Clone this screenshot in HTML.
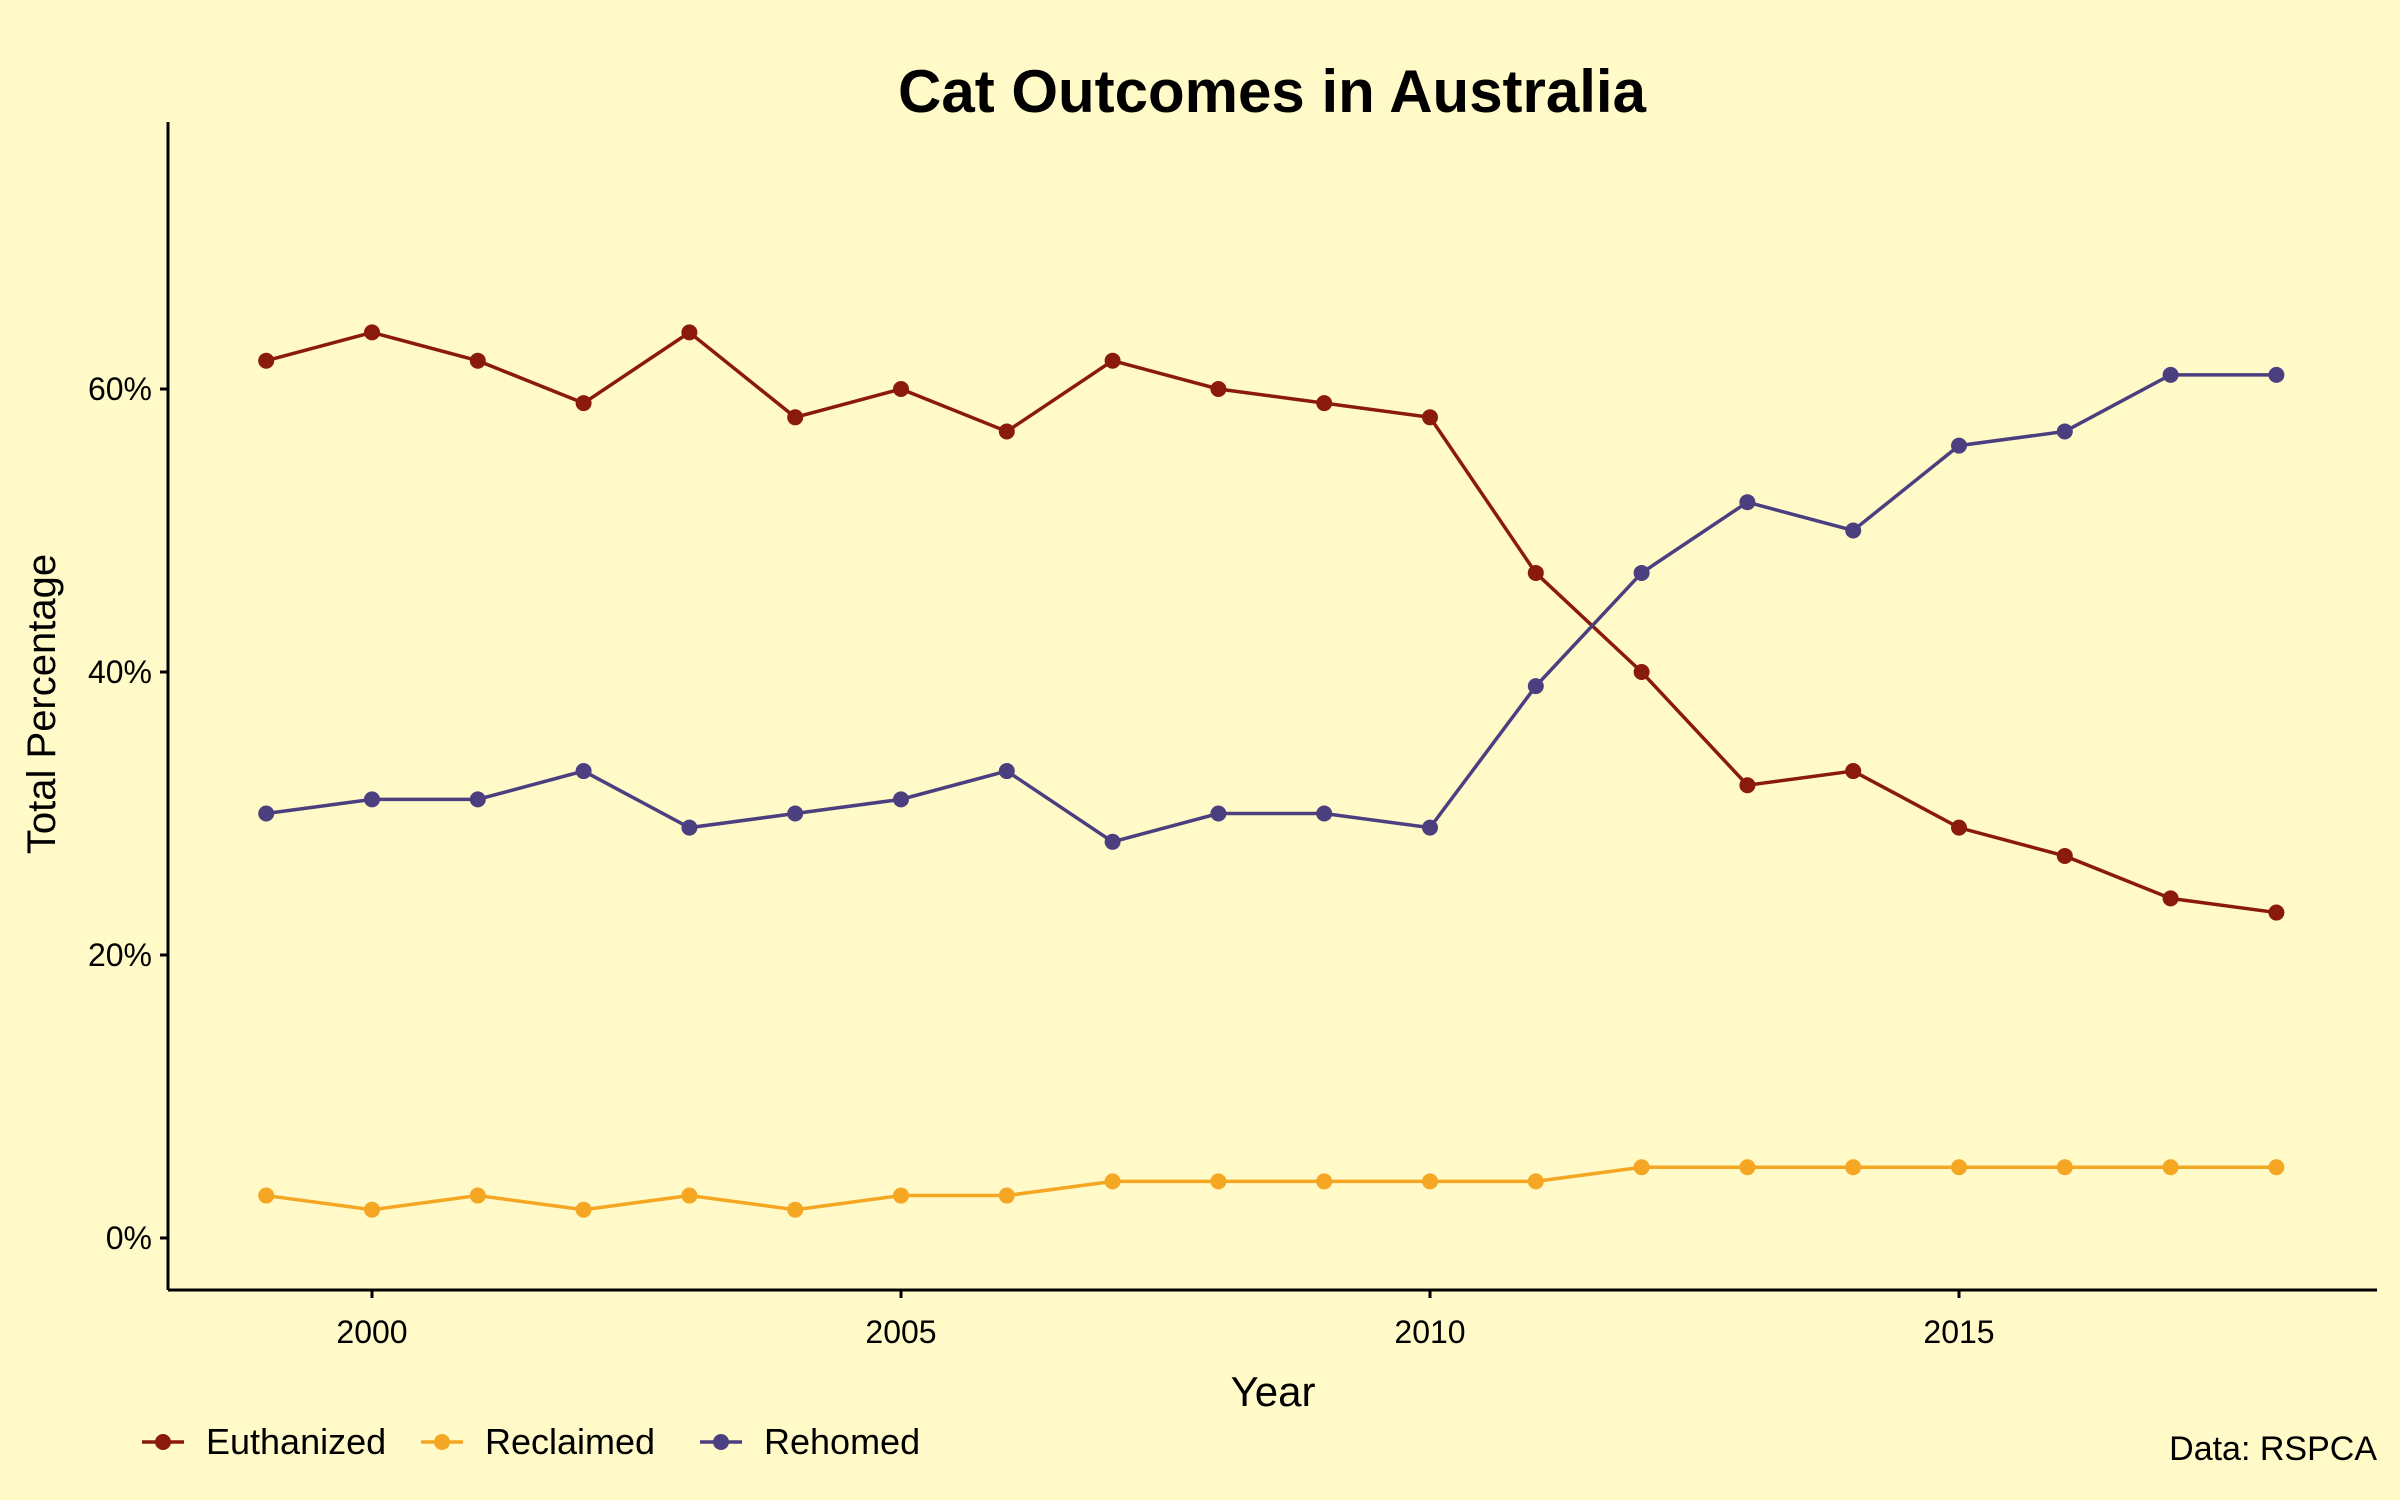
<!DOCTYPE html>
<html><head><meta charset="utf-8"><style>
html,body{margin:0;padding:0;background:#fffac7;}
svg{display:block;font-family:"Liberation Sans",sans-serif;}
</style></head><body>
<svg id="chart" width="2400" height="1500" viewBox="0 0 2400 1500" xmlns="http://www.w3.org/2000/svg">
<rect width="2400" height="1500" fill="#fffac7"/>
<text x="1272" y="112" text-anchor="middle" font-size="60" font-weight="bold" fill="#000">Cat Outcomes in Australia</text>
<g id="axes"></g>
<g id="series"></g>
<text x="1273" y="1406" text-anchor="middle" font-size="42" fill="#000">Year</text>
<text x="0" y="0" transform="translate(55,704) rotate(-90)" text-anchor="middle" font-size="40" fill="#000">Total Percentage</text>
<g id="legend"></g>
<text x="2377" y="1460" text-anchor="end" font-size="34" fill="#000">Data: RSPCA</text>
</svg>
<script>
const years=[1999,2000,2001,2002,2003,2004,2005,2006,2007,2008,2009,2010,2011,2012,2013,2014,2015,2016,2017,2018];
const euthanized=[62,64,62,59,64,58,60,57,62,60,59,58,47,40,32,33,29,27,24,23];
const reclaimed=[3,2,3,2,3,2,3,3,4,4,4,4,4,5,5,5,5,5,5,5];
const rehomed=[30,31,31,33,29,30,31,33,28,30,30,29,39,47,52,50,56,57,61,61];
const seriesNames=["Euthanized","Reclaimed","Rehomed"];
const xTicks=[2000,2005,2010,2015];
const yTicks=[0,20,40,60];

const NS="http://www.w3.org/2000/svg";
const colors=["#8b1a0e","#f5a623","#4b3f80"];
function xS(y){return 372+(y-2000)*(1959-372)/15;}
function yS(v){return 1238-v*(1238-389)/60;}
function mk(tag,attrs,parent){const e=document.createElementNS(NS,tag);for(const k in attrs)e.setAttribute(k,attrs[k]);parent.appendChild(e);return e;}

const axes=document.getElementById('axes');
const yAxis=mk('line',{x1:168,y1:122,x2:168,y2:1290,stroke:'#000','stroke-width':3},axes);


const xAxis=mk('line',{x1:168,y1:1290,x2:2377,y2:1290,stroke:'#000','stroke-width':3},axes);


yTicks.forEach(v=>{
  const t=mk('line',{x1:160,x2:168,y1:yS(v),y2:yS(v),stroke:'#000','stroke-width':3},axes);
  
  
  const l=mk('text',{x:152,y:yS(v)+11,'text-anchor':'end','font-size':32,fill:'#000'},axes);
  l.textContent=v+'%';
  
  
});
xTicks.forEach(v=>{
  const t=mk('line',{x1:xS(v),x2:xS(v),y1:1290,y2:1298,stroke:'#000','stroke-width':3},axes);
  
  
  const l=mk('text',{x:xS(v),y:1343,'text-anchor':'middle','font-size':32,fill:'#000'},axes);
  l.textContent=v;
  
  
});

const sg=document.getElementById('series');
[euthanized,reclaimed,rehomed].forEach((vals,i)=>{
  const g=mk('g',{},sg);
  
  
  const p=mk('polyline',{points:vals.map((v,j)=>xS(years[j])+','+yS(v)).join(' '),fill:'none',stroke:colors[i],'stroke-width':3.5},g);
  
  
  vals.forEach((v,j)=>{
    const c=mk('circle',{cx:xS(years[j]),cy:yS(v),r:8,fill:colors[i]},g);
    
    
  });
});

const lg=document.getElementById('legend');
const lx=[142,421,700];
seriesNames.forEach((n,i)=>{
  const g=mk('g',{},lg);
  
  
  mk('line',{x1:lx[i],x2:lx[i]+42,y1:1442,y2:1442,stroke:colors[i],'stroke-width':3.5},g);
  mk('circle',{cx:lx[i]+21,cy:1442,r:8,fill:colors[i]},g);
  const t=mk('text',{x:lx[i]+64,y:1454,'font-size':36,fill:'#000'},g);
  t.textContent=n;
  
  
});
</script>
</body></html>
